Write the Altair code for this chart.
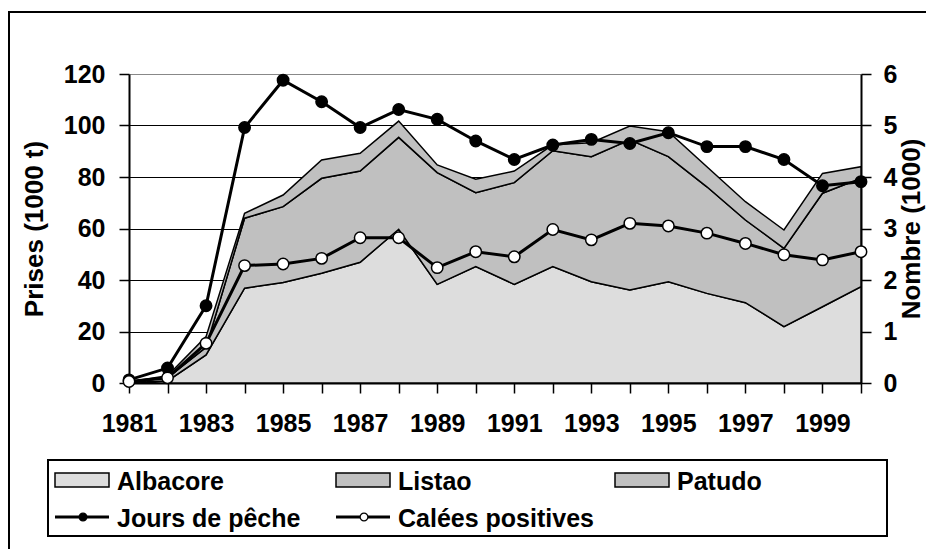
import altair as alt
import pandas as pd

# ---------------- data ----------------
years = list(range(1981, 2001))
species = ["Albacore", "Listao", "Patudo"]
species_colors = ["#dddddd", "#c0c0c0", "#c0c0c0"]

albacore = [0.2, 0.8, 10.9, 36.8, 39.0, 42.6, 46.9, 59.7, 38.3, 45.2,
            38.3, 45.2, 39.3, 36.1, 39.3, 34.8, 31.2, 21.9, 29.6, 37.4]
listao = [0.1, 1.2, 3.0, 27.2, 29.5, 36.9, 35.4, 35.7, 43.4, 28.7,
          39.5, 45.0, 48.6, 58.3, 48.6, 41.4, 32.1, 30.4, 44.1, 42.1]
patudo = [0.2, 0.8, 4.1, 1.9, 4.5, 7.1, 6.9, 6.3, 3.0, 5.2,
          4.5, 2.3, 5.4, 5.4, 9.7, 7.8, 7.1, 7.1, 7.7, 4.5]

line_names = ["Jours de pêche", "Calées positives"]
jours = [0.06, 0.29, 1.50, 4.96, 5.88, 5.46, 4.96, 5.31, 5.12, 4.70,
         4.34, 4.62, 4.73, 4.65, 4.86, 4.59, 4.59, 4.34, 3.83, 3.91]
calees = [0.03, 0.10, 0.77, 2.28, 2.31, 2.42, 2.82, 2.82, 2.24, 2.55,
          2.45, 2.98, 2.78, 3.10, 3.05, 2.91, 2.71, 2.49, 2.39, 2.55]

left_ticks = [0, 20, 40, 60, 80, 100, 120]
right_ticks = [0, 1, 2, 3, 4, 5, 6]

FONT = "Liberation Sans"

# ---------------- tables ----------------
area_df = pd.DataFrame({
    "year": years * 3,
    "species": sum([[s] * len(years) for s in species], []),
    "value": albacore + listao + patudo,
    "order": sum([[i] * len(years) for i in range(3)], []),
})
jours_df = pd.DataFrame({"year": years, "value": jours, "series": line_names[0]})
calees_df = pd.DataFrame({"year": years, "value": calees, "series": line_names[1]})

x_scale = alt.Scale(domain=[1981, 2000], nice=False, zero=False)
x_axis = alt.Axis(
    values=years, format="d", title=None,
    labelExpr="datum.value % 2 == 1 && datum.value < 2000 ? datum.label : ''",
    labelFlush=False, labelOverlap=False, tickSize=10, labelPadding=18,
    grid=False,
)
x_enc = alt.X("year:Q", scale=x_scale, axis=x_axis)

left_axis = alt.Axis(
    values=left_ticks, title="Prises (1000 t)", grid=True,
    gridColor=alt.condition("datum.value == 120", alt.value("#888888"), alt.value("black")),
    gridWidth=1, tickSize=10, labelPadding=14,
    titleAngle=270, titleBaseline="alphabetic", titleAlign="center",
    titleX=-87, titleY=154.5,
)
right_scale = alt.Scale(domain=[0, 6], nice=False, zero=True)
right_axis = alt.Axis(
    orient="right", values=right_ticks, title="Nombre (1000)", grid=False,
    tickSize=10, labelPadding=12,
    titleAngle=270, titleBaseline="alphabetic", titleAlign="center",
    titleX=58, titleY=154.5,
)

areas = alt.Chart(area_df).mark_area(stroke="black", strokeWidth=1.5, opacity=1).encode(
    x=x_enc,
    y=alt.Y("value:Q", stack="zero", scale=alt.Scale(domain=[0, 120], nice=False), axis=left_axis),
    color=alt.Color("species:N", scale=alt.Scale(domain=species, range=species_colors), legend=None),
    order=alt.Order("order:Q"),
)

def line_layer(df):
    return alt.Chart(df).mark_line(color="black", strokeWidth=3).encode(
        x=x_enc, y=alt.Y("value:Q", scale=right_scale, axis=right_axis))

def point_layer(df, fill):
    return alt.Chart(df).mark_point(
        shape="circle", filled=True, fill=fill, stroke="black", strokeWidth=1.5,
        size=130, opacity=1).encode(
        x=x_enc, y=alt.Y("value:Q", scale=right_scale, axis=right_axis))

right_group = alt.layer(
    line_layer(jours_df), point_layer(jours_df, "black"),
    line_layer(calees_df), point_layer(calees_df, "white"),
)

# ---------------- decorations (frame + legend) ----------------
one = pd.DataFrame({"k": [0]})
base = alt.Chart(one)

frame_top = base.mark_rule(color="black", strokeWidth=2).encode(
    x=alt.value(-121), x2=alt.value(800), y=alt.value(-62))
frame_left = base.mark_rule(color="black", strokeWidth=2).encode(
    x=alt.value(-120), y=alt.value(-62), y2=alt.value(480))

legend_box = base.mark_rect(fill="white", stroke="black", strokeWidth=2).encode(
    x=alt.value(-81), x2=alt.value(758), y=alt.value(386), y2=alt.value(462))

col_x = [-74, 207, 486]
legend_layers = [legend_box]
for i, name in enumerate(species):
    x0 = col_x[i]
    legend_layers.append(base.mark_rect(fill=species_colors[i], stroke="black", strokeWidth=1.5).encode(
        x=alt.value(x0), x2=alt.value(x0 + 54), y=alt.value(399), y2=alt.value(413)))
    legend_layers.append(alt.Chart(pd.DataFrame({"label": [name]})).mark_text(
        align="left", baseline="alphabetic", font=FONT, fontSize=25, fontWeight="bold", color="black").encode(
        x=alt.value(x0 + 62), y=alt.value(416), text="label:N"))

for i, (name, fill) in enumerate(zip(line_names, ["black", "white"])):
    x0 = col_x[i]
    legend_layers.append(base.mark_rule(color="black", strokeWidth=3).encode(
        x=alt.value(x0), x2=alt.value(x0 + 54), y=alt.value(443)))
    legend_layers.append(base.mark_point(shape="circle", filled=True, fill=fill, stroke="black",
                                         strokeWidth=1.2, size=60, opacity=1).encode(
        x=alt.value(x0 + 28), y=alt.value(443)))
    legend_layers.append(alt.Chart(pd.DataFrame({"label": [name]})).mark_text(
        align="left", baseline="alphabetic", font=FONT, fontSize=25, fontWeight="bold", color="black").encode(
        x=alt.value(x0 + 62), y=alt.value(453), text="label:N"))

chart = alt.layer(
    areas, right_group, frame_top, frame_left, *legend_layers
).resolve_scale(y="independent").properties(
    width=732, height=309,
    autosize=alt.AutoSizeParams(type="none"),
    padding={"left": 121, "top": 66, "right": 65, "bottom": 166},
).configure_view(stroke=None).configure_axis(
    labelFont=FONT, titleFont=FONT, labelFontSize=25, labelFontWeight="bold",
    titleFontSize=26, titleFontWeight="bold", labelColor="black", titleColor="black",
    domainColor="black", domainWidth=2, tickColor="black", tickWidth=1.5,
)

chart.save("out.html", embed_options={"renderer": "svg", "actions": False})
